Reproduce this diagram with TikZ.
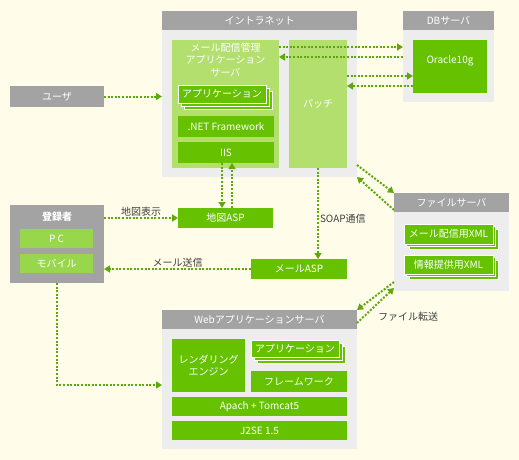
\documentclass[tikz,border=0pt]{standalone}
\usepackage{fontspec}
\setmainfont{Noto Sans CJK JP}
\usetikzlibrary{arrows.meta,calc}
\definecolor{NWhinter}{HTML}{FFFDE9}
\definecolor{NWgrau}{HTML}{A3A3A3}
\definecolor{NWhell}{HTML}{EDEDED}
\definecolor{NWgruen}{HTML}{66C200}
\definecolor{NWhellgruen}{HTML}{B3DF6F}
\definecolor{NWmittel}{HTML}{98D74C}
\definecolor{NWpfeil}{HTML}{5EA80E}
\definecolor{NWtext}{HTML}{404040}
\newcommand{\kasten}[7]{%
  \node[#2, anchor=north west, minimum width=#5, minimum height=#6]
  (#1) at (#3,#4) {#7};}
\newcommand{\stapel}[7]{%
  \foreach \s in {2,1}
    \draw[schicht] ({#2+\s*#6},{#3+\s*#6}) rectangle +(#4,#5);
  \kasten{#1}{schicht}{#2}{#3}{#4}{#5}{#7}}
\newcommand{\server}[6]{%
  \kasten{#1}{koerper}{#2}{#3}{#4}{#5}{}
  \kasten{#1titel}{titel}{#2}{#3}{#4}{19}{#6}}

\begin{document}
\begin{tikzpicture}[x=1pt, y=-1pt,
  font=\fontsize{10}{12.5}\selectfont,
  every node/.style={inner sep=0pt, outer sep=0pt},
  titel/.style={fill=NWgrau, text=white},
  koerper/.style={fill=NWhell},
  blass/.style={fill=NWhellgruen, text=white},
  voll/.style={fill=NWgruen, text=white},
  mittel/.style={fill=NWmittel, text=white},
  schicht/.style={fill=NWgruen, draw=white, line width=0.8pt, text=white},
  beschr/.style={text=NWtext, inner sep=2pt},
  pfeil/.style={NWpfeil, line width=2pt, dash pattern=on 2pt off 1.6pt,
    -{Triangle[length=6pt, width=7pt]}}]

\fill[NWhinter] (0,0) rectangle (519,460);
\useasboundingbox (0,0) rectangle (519,460);

% ====================================================================
%
%         Server
%
% ====================================================================

  % Intranet
  \server{intra}{162}{11}{195}{166}{イントラネット}
  \kasten{mailsrv}{blass}{172}{40}{107}{128}{}
  \node[text=white, align=center, anchor=north] (mailtext) at (225.5,43)
    {メール配信管理\\アプリケーション\\サーバ};
  \stapel{intraapp}{178}{85}{88}{18}{3}{アプリケーション}
  \kasten{net}{voll}{178}{116}{96}{21}{.NET Framework}
  \kasten{iis}{voll}{178}{142}{96}{21}{IIS}
  \kasten{patch}{blass}{289}{40}{58}{128}{パッチ}

  % DB
  \server{db}{403}{11}{91}{91}{DBサーバ}
  \kasten{oracle}{voll}{413}{40}{74}{53}{}
  \node[text=white] (oracletext) at (450,61) {Oracle10g};

  % Dateiserver
  \server{file}{394}{193}{115}{98}{ファイルサーバ}
  \stapel{mailxml}{404}{224}{89}{20}{2.5}{メール配信用XML}
  \stapel{infoxml}{404}{255}{89}{19}{2.5}{情報提供用XML}

  % Web
  \server{web}{162}{310}{195}{139}{Webアプリケーションサーバ}
  \kasten{render}{voll}{172}{339}{73}{53}{}
  \node[text=white, align=center] (rendertext) at (render.center)
    {レンダリング\\エンジン};
  \stapel{webapp}{251}{340}{88}{17}{3}{アプリケーション}
  \kasten{frame}{voll}{251}{371}{96}{21}{フレームワーク}
  \kasten{apache}{voll}{172}{397}{175}{19}{Apach + Tomcat5}
  \kasten{j2se}{voll}{172}{421}{175}{19}{J2SE 1.5}

% ====================================================================
%
%         Benutzer
%
% ====================================================================

  \kasten{user}{titel}{10}{86}{94}{21}{ユーザ}
  \kasten{reg}{titel}{10}{205}{94}{78}{}
  \node[text=white, font=\fontsize{10}{12.5}\selectfont\bfseries]
    (regtitel) at (57,217) {登録者};
  \kasten{pc}{mittel}{20}{229}{73}{19}{P C}
  \kasten{mobil}{mittel}{20}{254}{73}{19}{モバイル}

  \kasten{mapasp}{voll}{178}{208}{95}{20}{地図ASP}
  \kasten{mailasp}{voll}{251}{259}{96}{20}{メールASP}

% ====================================================================
%
%         Pfeile
%
% ====================================================================

  % Intranet - DB
  \draw[pfeil] ($(mailsrv.north east)+(0,7)$) -- ($(db.north west)+(0,36)$);
  \draw[pfeil] ($(db.north west)+(0,46)$) -- ($(mailsrv.north east)+(0,17)$);
  \draw[pfeil] ($(patch.north east)+(0,36)$) -- ($(oracle.north west)+(0,36)$);
  \draw[pfeil] ($(oracle.north west)+(0,46)$) -- ($(patch.north east)+(0,46)$);

  % Benutzer
  \draw[pfeil] (user.east) -- (user.east -| intra.west);
  \draw[pfeil] ($(iis.south west)+(44,0)$) -- ($(mapasp.north west)+(44,0)$);
  \draw[pfeil] ($(mapasp.north west)+(54,0)$) -- ($(iis.south west)+(54,0)$);
  \draw[pfeil] (mapasp.west -| reg.east) --
    node[beschr, above] (maplabel) {地図表示} (mapasp.west);
  \draw[pfeil] (patch.south) --
    node[beschr, right, pos=0.56] (soaplabel) {SOAP通信}
    (patch.south |- mailasp.north);
  \draw[pfeil] (mailasp.west) --
    node[beschr, above] (maillabel) {メール送信} (mailasp.west -| reg.east);
  \draw[pfeil] (reg.south) |- ($(web.north west)+(0,75)$);

  % Dateiserver
  \draw[pfeil] ($(intra.south east)+(0,-12)$) -- (file.north west);
  \draw[pfeil] ($(file.north west)+(0,17)$) -- (intra.south east);
  \draw[pfeil] ($(file.south west)+(0,-9)$) -- (web.north east);
  \draw[pfeil] ($(web.north east)+(0,13)$) -- ($(file.south west)+(0,-3)$);
  \node[beschr, anchor=west] (transfer) at (376,317) {ファイル転送};

\end{tikzpicture}
\end{document}
